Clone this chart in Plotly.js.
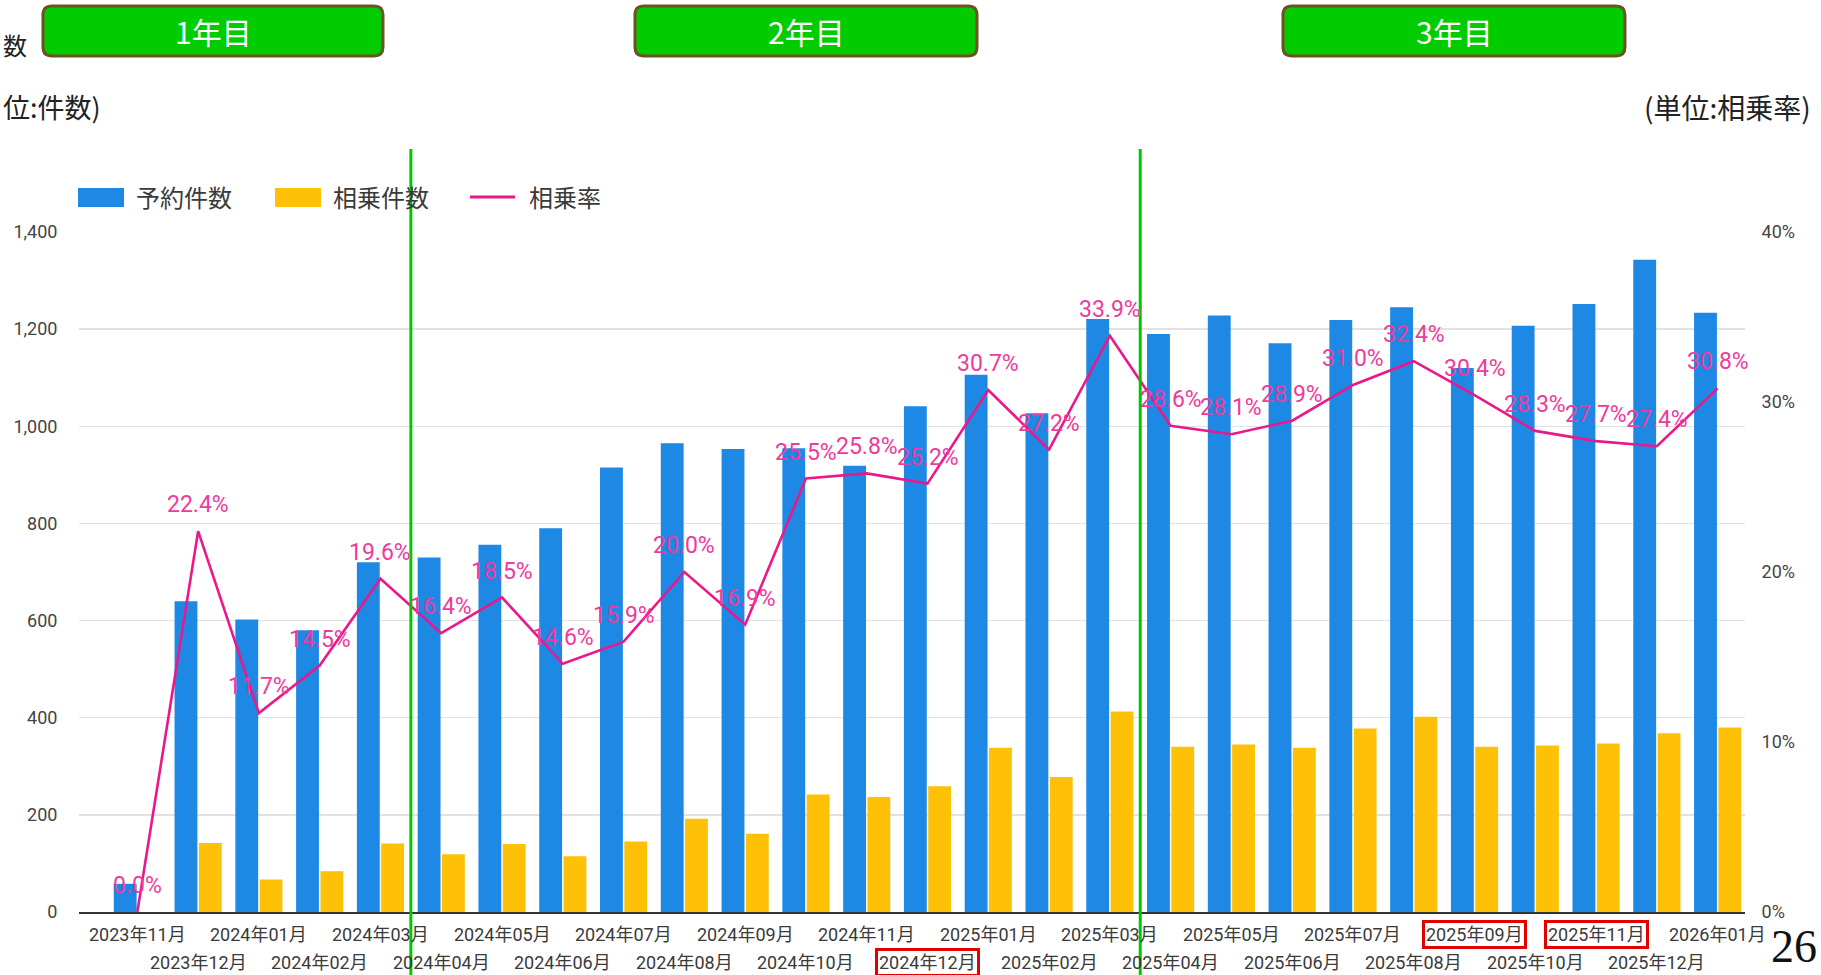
<!DOCTYPE html>
<html>
<head>
<meta charset="utf-8">
<script src="https://cdn.plot.ly/plotly-3.0.1.min.js"></script>
<style>
html,body{margin:0;padding:0;background:#fff;overflow:hidden;}
#chart{width:1821px;height:975px;}
</style>
</head>
<body>
<div id="chart"></div>
<script>
// ---- data ----
const categories = ['2023年11月','2023年12月','2024年01月','2024年02月','2024年03月','2024年04月','2024年05月','2024年06月','2024年07月','2024年08月','2024年09月','2024年10月','2024年11月','2024年12月','2025年01月','2025年02月','2025年03月','2025年04月','2025年05月','2025年06月','2025年07月','2025年08月','2025年09月','2025年10月','2025年11月','2025年12月','2026年01月'];
const bookings = [58,640,602,580,720,730,756,790,915,965,953,955,919,1041,1106,1027,1221,1190,1228,1171,1219,1245,1120,1207,1252,1343,1234];
const shared = [0,142,67,84,141,119,140,115,145,192,161,242,237,259,338,278,413,340,345,338,378,402,340,343,347,368,380];
const rates = [0.0,22.4,11.7,14.5,19.6,16.4,18.5,14.6,15.9,20.0,16.9,25.5,25.8,25.2,30.7,27.2,33.9,28.6,28.1,28.9,31.0,32.4,30.4,28.3,27.7,27.4,30.8];
const seriesNames = ['予約件数','相乗件数','相乗率'];
const highlighted = ['2024年12月','2025年09月','2025年11月'];
const yearLabels = ['1年目','2年目','3年目'];
const leftTicks = [0,200,400,600,800,1000,1200,1400];
const rightTicks = [0,10,20,30,40];
const rightTickText = ['0%','10%','20%','30%','40%'];
const yearBoundaries = [4.5, 16.5];

// ---- layout geometry (pixels) ----
const W = 1821, H = 975;
const M = {l:79, r:76, t:232, b:63};
const PW = W - M.l - M.r, PH = H - M.t - M.b;
const PX = v => (v - M.l) / PW;
const PY = v => (H - M.b - v) / PH;

const BLUE = '#1e88e5', YELLOW = '#ffc107', PINK = '#e9198b', PINKTXT = '#ee3a9c';
const GREEN = '#00c800';
const JP = '"Noto Sans CJK JP", sans-serif';

function rrPath(x0,y0,x1,y1,r){
  const X = v => PX(v).toFixed(5), Y = v => PY(v).toFixed(5);
  return `M ${X(x0+r)},${Y(y0)} L ${X(x1-r)},${Y(y0)} Q ${X(x1)},${Y(y0)} ${X(x1)},${Y(y0+r)} ` +
         `L ${X(x1)},${Y(y1-r)} Q ${X(x1)},${Y(y1)} ${X(x1-r)},${Y(y1)} ` +
         `L ${X(x0+r)},${Y(y1)} Q ${X(x0)},${Y(y1)} ${X(x0)},${Y(y1-r)} ` +
         `L ${X(x0)},${Y(y0+r)} Q ${X(x0)},${Y(y0)} ${X(x0+r)},${Y(y0)} Z`;
}

const traces = [
  {type:'bar', name:seriesNames[0], x:categories, y:bookings, marker:{color:BLUE}, hoverinfo:'skip'},
  {type:'bar', name:seriesNames[1], x:categories, y:shared, marker:{color:YELLOW}, hoverinfo:'skip'},
  {type:'scatter', mode:'lines', name:seriesNames[2], x:categories, y:rates, yaxis:'y2',
   line:{color:PINK, width:2.6}, hoverinfo:'skip'}
];

const annotations = [];
const shapes = [];

// rate labels
categories.forEach((c,i)=>{
  annotations.push({xref:'x', yref:'y2', x:c, y:rates[i], text:rates[i].toFixed(1)+'%',
    showarrow:false, yanchor:'bottom', xanchor:'center', yshift:11,
    font:{family:'Roboto, sans-serif', size:23, color:PINKTXT}});
});

// x tick labels in two staggered rows
categories.forEach((c,i)=>{
  const hl = highlighted.includes(c);
  const a = {xref:'x', yref:'paper', x:c, y:0, yanchor:'middle', xanchor:'center',
    yshift: (i%2===0) ? -22 : -50, showarrow:false, text:c,
    font:{family:'Roboto, "Noto Sans CJK JP", sans-serif', size:18, color:'#3a3a3a'}};
  if (hl){ a.bordercolor = '#e30000'; a.borderwidth = 3; a.borderpad = 1; }
  annotations.push(a);
});

// year boundary lines
yearBoundaries.forEach(b=>{
  shapes.push({type:'line', xref:'x', yref:'paper', x0:b, x1:b, y0:PY(H+5), y1:PY(149),
    line:{color:GREEN, width:3}, layer:'above'});
});

// year boxes
const yearBoxes = [[43,383],[635,977],[1283,1625]];
yearLabels.forEach((t,i)=>{
  const [x0,x1] = yearBoxes[i];
  shapes.push({type:'path', xref:'paper', yref:'paper', path:rrPath(x0,6,x1,56,9),
    fillcolor:'#00cc00', line:{color:'#6b5424', width:3}, layer:'above'});
  annotations.push({xref:'paper', yref:'paper', x:PX((x0+x1)/2), y:PY(31), text:t,
    showarrow:false, xanchor:'center', yanchor:'middle',
    font:{family:JP, size:30, color:'#ffffff'}});
});

// custom legend
shapes.push({type:'rect', xref:'paper', yref:'paper', x0:PX(78), x1:PX(124), y0:PY(207), y1:PY(188), fillcolor:BLUE, line:{width:0}});
shapes.push({type:'rect', xref:'paper', yref:'paper', x0:PX(275), x1:PX(321), y0:PY(207), y1:PY(188), fillcolor:YELLOW, line:{width:0}});
shapes.push({type:'line', xref:'paper', yref:'paper', x0:PX(470), x1:PX(515), y0:PY(197), y1:PY(197), line:{color:PINK, width:3}});
[[134,0],[331,1],[527,2]].forEach(([x,k])=>{
  annotations.push({xref:'paper', yref:'paper', x:PX(x), y:PY(197), text:seriesNames[k], showarrow:false,
    xanchor:'left', yanchor:'middle', font:{family:JP, size:24, color:'#3a3a3a'}});
});

// unit labels and page texts (visible parts as in the reference)
annotations.push({xref:'paper', yref:'paper', x:PX(1), y:PY(107), text:'位:件数)', showarrow:false,
  xanchor:'left', yanchor:'middle', font:{family:JP, size:27, color:'#222'}});
annotations.push({xref:'paper', yref:'paper', x:PX(1813), y:PY(107), text:'(単位:相乗率)', showarrow:false,
  xanchor:'right', yanchor:'middle', font:{family:JP, size:28, color:'#222'}});
annotations.push({xref:'paper', yref:'paper', x:PX(1), y:PY(44), text:'数', showarrow:false,
  xanchor:'left', yanchor:'middle', font:{family:JP, size:24, color:'#222'}});
annotations.push({xref:'paper', yref:'paper', x:PX(1819), y:PY(974), text:'26', showarrow:false,
  xanchor:'right', yanchor:'bottom', font:{family:'"Liberation Serif", serif', size:46, color:'#111'}});

const layout = {
  width:W, height:H,
  margin:{l:M.l, r:M.r, t:M.t, b:M.b, pad:0},
  paper_bgcolor:'#ffffff', plot_bgcolor:'#ffffff',
  showlegend:false,
  barmode:'group', bargap:0.2, bargroupgap:0.06,
  font:{family:'Roboto, "Noto Sans CJK JP", sans-serif'},
  xaxis:{type:'category', range:[-0.96, 26.45], showticklabels:false, ticks:'',
    showline:true, linecolor:'#333', linewidth:2, showgrid:false, zeroline:false, fixedrange:true},
  yaxis:{range:[0,1400], tickvals:leftTicks, tickformat:',d', showgrid:true, gridcolor:'#e2e2e2', gridwidth:1.5,
    zeroline:false, ticks:'outside', ticklen:17, tickcolor:'rgba(0,0,0,0)',
    tickfont:{family:'Roboto, sans-serif', size:18, color:'#444'}, fixedrange:true},
  yaxis2:{overlaying:'y', side:'right', range:[0,40], tickmode:'array', tickvals:rightTicks, ticktext:rightTickText,
    showgrid:false, zeroline:false, ticks:'outside', ticklen:12, tickcolor:'rgba(0,0,0,0)',
    tickfont:{family:'Roboto, sans-serif', size:18, color:'#444'}, fixedrange:true},
  annotations:annotations,
  shapes:shapes
};

Plotly.newPlot('chart', traces, layout, {displayModeBar:false, staticPlot:true});
</script>
</body>
</html>
